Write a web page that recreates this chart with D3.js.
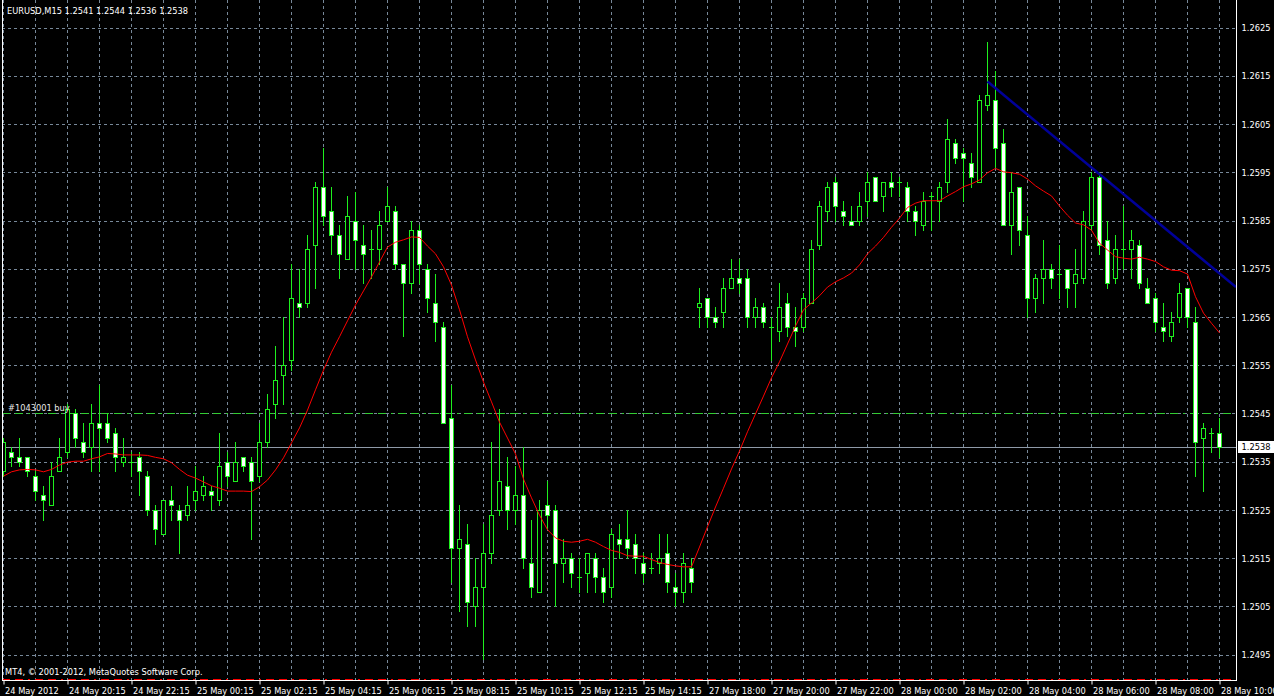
<!DOCTYPE html>
<html><head><meta charset="utf-8">
<script src="https://cdn.jsdelivr.net/npm/d3@7"></script>
<style>
html,body{margin:0;padding:0;background:#000;overflow:hidden;}
svg{display:block;}
text{font-family:"DejaVu Sans Condensed","DejaVu Sans",sans-serif;font-stretch:condensed;font-size:9.2px;fill:#fff;}
</style></head><body>
<svg id="chart" width="1274" height="696"></svg>
<script>
// ---------------- DATA ----------------
const symbolTitle = "EURUSD,M15  1.2541 1.2544 1.2536 1.2538";
const copyrightText = "MT4, \u00A9 2001-2012, MetaQuotes Software Corp.";
const orderLabel = "#1043001 buy";
const orderPrice = 1.2545;
const stopPrice = 1.2490;
const bidPrice = 1.2538;

const opens = [
1.2533,1.2537,1.2536,1.2536,1.2532,1.2528,1.2526,1.2533,1.2537,1.2545,
1.2539,1.2538,1.2543,1.2543,1.2541,1.2535,1.2535,1.2536,1.2532,1.2525,
1.2520,1.2527,1.2525,1.2524,1.2527,1.2528,1.2529,1.2527,1.2535,1.2531,
1.2536,1.2535,1.2532,1.2539,1.2547,1.2553,1.2556,1.2568,1.2568,1.2580,
1.2592,1.2587,1.2582,1.2577,1.2585,1.2580,1.2579,1.2579,1.2585,1.2587,
1.2576,1.2572,1.2583,1.2575,1.2568,1.2563,1.2544,1.2517,1.2518,1.2505,
1.2509,1.2516,1.2525,1.2530,1.2525,1.2528,1.2514,1.2508,1.2526,1.2525,
1.2514,1.2515,1.2511,1.2512,1.2515,1.2511,1.2509,1.2519,1.2519,1.2518,
1.2514,1.2513,1.2514,1.2516,1.2509,1.2508,1.2513,1.2567,1.2569,1.2565,
1.2566,1.2571,1.2573,1.2573,1.2565,1.2567,1.2563,1.2562,1.2568,1.2563,
1.2563,1.2568,1.2580,1.2587,1.2593,1.2587,1.2585,1.2585,1.2589,1.2594,
1.2590,1.2593,1.2593,1.2592,1.2587,1.2584,1.2590,1.2589,1.2593,1.2601,
1.2599,1.2597,1.2593,1.2609,1.2610,1.2601,1.2584,1.2592,1.2582,1.2569,
1.2573,1.2575,1.2574,1.2575,1.2572,1.2573,1.2584,1.2594,1.2581,1.2573,
1.2579,1.2579,1.2580,1.2571,1.2569,1.2563,1.2561,1.2565,1.2571,1.2564,
1.2540,1.2541,1.2541];
const highs = [
1.2540,1.2538,1.2540,1.2536,1.2533,1.2530,1.2535,1.2540,1.2547,1.2546,
1.2543,1.2547,1.2551,1.2545,1.2542,1.2540,1.2537,1.2537,1.2533,1.2526,
1.2527,1.2530,1.2526,1.2530,1.2534,1.2532,1.2530,1.2541,1.2537,1.2539,
1.2536,1.2536,1.2543,1.2549,1.2559,1.2565,1.2576,1.2575,1.2582,1.2593,
1.2600,1.2592,1.2584,1.2590,1.2591,1.2584,1.2583,1.2587,1.2592,1.2588,
1.2576,1.2585,1.2584,1.2576,1.2574,1.2564,1.2551,1.2526,1.2522,1.2515,
1.2522,1.2539,1.2546,1.2536,1.2534,1.2538,1.2523,1.2527,1.2531,1.2526,
1.2519,1.2516,1.2515,1.2516,1.2516,1.2513,1.2521,1.2522,1.2525,1.2520,
1.2516,1.2516,1.2520,1.2520,1.2512,1.2516,1.2515,1.2571,1.2569,1.2567,
1.2573,1.2577,1.2577,1.2575,1.2569,1.2568,1.2565,1.2572,1.2570,1.2567,
1.2570,1.2581,1.2589,1.2593,1.2594,1.2589,1.2588,1.2591,1.2595,1.2594,
1.2593,1.2595,1.2594,1.2593,1.2588,1.2591,1.2591,1.2593,1.2606,1.2602,
1.2600,1.2599,1.2611,1.2622,1.2616,1.2604,1.2595,1.2592,1.2586,1.2574,
1.2581,1.2576,1.2580,1.2575,1.2579,1.2587,1.2595,1.2595,1.2585,1.2582,
1.2588,1.2583,1.2581,1.2573,1.2570,1.2568,1.2566,1.2572,1.2571,1.2567,
1.2543,1.2542,1.2544];
const lows = [
1.2532,1.2534,1.2534,1.2532,1.2527,1.2523,1.2526,1.2533,1.2536,1.2538,
1.2536,1.2533,1.2533,1.2539,1.2533,1.2534,1.2532,1.2528,1.2524,1.2518,
1.2520,1.2523,1.2516,1.2523,1.2525,1.2527,1.2525,1.2526,1.2530,1.2531,
1.2533,1.2519,1.2531,1.2538,1.2544,1.2547,1.2554,1.2565,1.2567,1.2571,
1.2584,1.2578,1.2573,1.2577,1.2575,1.2572,1.2573,1.2576,1.2585,1.2575,
1.2561,1.2570,1.2572,1.2566,1.2560,1.2543,1.2510,1.2504,1.2501,1.2501,
1.2494,1.2514,1.2524,1.2521,1.2522,1.2513,1.2507,1.2508,1.2521,1.2505,
1.2510,1.2509,1.2508,1.2508,1.2508,1.2506,1.2507,1.2515,1.2515,1.2512,
1.2510,1.2512,1.2512,1.2508,1.2505,1.2506,1.2508,1.2563,1.2563,1.2563,
1.2563,1.2571,1.2570,1.2563,1.2563,1.2563,1.2556,1.2560,1.2561,1.2559,
1.2562,1.2568,1.2579,1.2585,1.2585,1.2584,1.2584,1.2584,1.2586,1.2589,
1.2587,1.2590,1.2590,1.2585,1.2582,1.2583,1.2583,1.2585,1.2591,1.2597,
1.2589,1.2592,1.2593,1.2608,1.2596,1.2584,1.2578,1.2580,1.2565,1.2566,
1.2568,1.2571,1.2569,1.2567,1.2567,1.2572,1.2583,1.2578,1.2571,1.2572,
1.2575,1.2573,1.2571,1.2568,1.2562,1.2560,1.2560,1.2564,1.2563,1.2532,
1.2529,1.2537,1.2536];
const closes = [
1.2539,1.2536,1.2535,1.2533,1.2529,1.2527,1.2532,1.2536,1.2546,1.2540,
1.2537,1.2543,1.2542,1.2540,1.2536,1.2536,1.2535,1.2533,1.2525,1.2521,
1.2527,1.2526,1.2523,1.2526,1.2529,1.2530,1.2528,1.2534,1.2532,1.2535,
1.2534,1.2531,1.2539,1.2546,1.2552,1.2555,1.2569,1.2567,1.2579,1.2592,
1.2586,1.2582,1.2578,1.2586,1.2581,1.2578,1.2579,1.2584,1.2588,1.2576,
1.2572,1.2583,1.2576,1.2569,1.2564,1.2543,1.2517,1.2519,1.2506,1.2509,
1.2516,1.2524,1.2531,1.2525,1.2528,1.2515,1.2509,1.2525,1.2524,1.2514,
1.2515,1.2512,1.2511,1.2516,1.2511,1.2508,1.2520,1.2518,1.2517,1.2515,
1.2512,1.2513,1.2515,1.2510,1.2508,1.2514,1.2510,1.2568,1.2565,1.2564,
1.2571,1.2573,1.2572,1.2565,1.2567,1.2564,1.2563,1.2567,1.2563,1.2562,
1.2569,1.2579,1.2588,1.2592,1.2588,1.2586,1.2584,1.2588,1.2593,1.2589,
1.2593,1.2592,1.2593,1.2587,1.2585,1.2589,1.2590,1.2592,1.2602,1.2598,
1.2598,1.2594,1.2610,1.2611,1.2600,1.2584,1.2591,1.2583,1.2569,1.2573,
1.2575,1.2573,1.2574,1.2571,1.2574,1.2585,1.2594,1.2580,1.2572,1.2579,
1.2579,1.2581,1.2572,1.2568,1.2564,1.2562,1.2564,1.2570,1.2565,1.2539,
1.2542,1.2541,1.2538];
const maValues = [
1.25320,1.25329,1.25333,1.25334,1.25333,1.25329,1.25334,1.25343,1.25349,1.25351,
1.25351,1.25356,1.25360,1.25367,1.25366,1.25364,1.25364,1.25364,1.25363,1.25359,
1.25356,1.25348,1.25334,1.25322,1.25316,1.25308,1.25300,1.25295,1.25289,1.25289,
1.25289,1.25288,1.25298,1.25312,1.25333,1.25358,1.25389,1.25420,1.25457,1.25499,
1.25540,1.25577,1.25609,1.25642,1.25675,1.25704,1.25733,1.25764,1.25795,1.25805,
1.25810,1.25816,1.25815,1.25797,1.25781,1.25754,1.25716,1.25665,1.25609,1.25561,
1.25515,1.25474,1.25432,1.25399,1.25366,1.25314,1.25275,1.25239,1.25209,1.25192,
1.25185,1.25183,1.25185,1.25189,1.25183,1.25174,1.25166,1.25162,1.25155,1.25154,
1.25154,1.25147,1.25141,1.25137,1.25134,1.25132,1.25132,1.25173,1.25215,1.25256,
1.25295,1.25335,1.25372,1.25412,1.25449,1.25486,1.25524,1.25557,1.25594,1.25631,
1.25665,1.25679,1.25694,1.25712,1.25723,1.25731,1.25741,1.25758,1.25781,1.25797,
1.25815,1.25836,1.25855,1.25877,1.25886,1.25891,1.25891,1.25891,1.25901,1.25910,
1.25920,1.25926,1.25934,1.25949,1.25958,1.25951,1.25949,1.25946,1.25936,1.25922,
1.25911,1.25901,1.25880,1.25861,1.25845,1.25841,1.25830,1.25803,1.25789,1.25775,
1.25772,1.25770,1.25774,1.25770,1.25765,1.25754,1.25747,1.25746,1.25739,1.25692,
1.25658,1.25637,1.25617];
const timeLabels = ["24 May 2012","24 May 20:15","24 May 22:15","25 May 00:15","25 May 02:15",
"25 May 04:15","25 May 06:15","25 May 08:15","25 May 10:15","25 May 12:15","25 May 14:15",
"27 May 18:00","27 May 20:00","27 May 22:00","28 May 00:00","28 May 02:00","28 May 04:00",
"28 May 06:00","28 May 08:00","28 May 10:00"];
const timeLabelBars = [0,8,16,24,32,40,48,56,64,72,80,88,96,104,112,120,128,136,144,152];
const priceTicks = [1.2495,1.2505,1.2515,1.2525,1.2535,1.2545,1.2555,1.2565,1.2575,1.2585,1.2595,1.2605,1.2615,1.2625];
const trendBars = [123, 137];
const trendPrices = [1.26138, 1.25946];

// ---------------- LAYOUT ----------------
const W = 1274, H = 696;
const plotLeft = 2, plotRight = 1236, plotBottom = 680;
const GREEN = "#1ef01e", GRID = "#778899";

const svg = d3.select("#chart");
svg.append("rect").attr("width", W).attr("height", H).attr("fill", "#000");

const x = d3.scaleLinear().domain([0, closes.length - 1]).range([3.5, 3.5 + 8 * (closes.length - 1)]);
const y = d3.scaleLinear().domain([1.2495, 1.2625]).range([654.6, 27.6]);
const py = v => Math.round(y(v)) + 0.5;

svg.append("defs").append("clipPath").attr("id", "plotclip")
  .append("rect").attr("x", plotLeft + 1).attr("y", 0).attr("width", plotRight - plotLeft - 1).attr("height", plotBottom);

// grid
const gridBars = d3.range(0, closes.length, 4);
const grid = svg.append("g");
grid.selectAll("line.v").data(gridBars).join("line").attr("class", "v")
  .attr("x1", d => x(d)).attr("x2", d => x(d)).attr("y1", 0).attr("y2", plotBottom)
  .attr("stroke", GRID).attr("stroke-dasharray", "3,3");
grid.selectAll("line.h").data(priceTicks).join("line").attr("class", "h")
  .attr("x1", plotLeft).attr("x2", plotRight).attr("y1", d => py(d)).attr("y2", d => py(d))
  .attr("stroke", GRID).attr("stroke-dasharray", "3,3");

const plot = svg.append("g").attr("clip-path", "url(#plotclip)");

// bid line
plot.append("line").attr("x1", plotLeft).attr("x2", plotRight)
  .attr("y1", py(bidPrice)).attr("y2", py(bidPrice)).attr("stroke", "#8f9aa8").attr("stroke-width", 1);
// order line
plot.append("line").attr("x1", plotLeft).attr("x2", plotRight)
  .attr("y1", py(orderPrice)).attr("y2", py(orderPrice)).attr("stroke", "#32cd32")
  .attr("stroke-dasharray", "8,5,8,5,2,5");
// stop line
plot.append("line").attr("x1", plotLeft).attr("x2", plotRight)
  .attr("y1", py(stopPrice)).attr("y2", py(stopPrice)).attr("stroke", "#ff0000")
  .attr("stroke-dasharray", "8,5,8,5,2,5");

// candles
const bars = d3.range(closes.length).map(i => ({i, o: opens[i], h: highs[i], l: lows[i], c: closes[i]}));
const cg = plot.append("g").selectAll("g").data(bars).join("g");
cg.append("line").attr("x1", d => x(d.i)).attr("x2", d => x(d.i))
  .attr("y1", d => Math.round(y(d.h))).attr("y2", d => Math.round(y(d.l)) + 1)
  .attr("stroke", GREEN).attr("stroke-width", 1);
cg.filter(d => d.o !== d.c).append("rect")
  .attr("x", d => x(d.i) - 2).attr("width", 4)
  .attr("y", d => Math.round(y(Math.max(d.o, d.c))) + 0.5)
  .attr("height", d => Math.max(1, Math.round(y(Math.min(d.o, d.c))) - Math.round(y(Math.max(d.o, d.c)))))
  .attr("fill", d => d.c > d.o ? "#000" : "#fff")
  .attr("stroke", GREEN).attr("stroke-width", 1);
cg.filter(d => d.o === d.c).append("line")
  .attr("x1", d => x(d.i) - 2.5).attr("x2", d => x(d.i) + 2.5)
  .attr("y1", d => py(d.o)).attr("y2", d => py(d.o))
  .attr("stroke", GREEN).attr("stroke-width", 1);

// moving average
plot.append("path").datum(maValues)
  .attr("d", d3.line().x((d, i) => x(i)).y(d => y(d)))
  .attr("fill", "none").attr("stroke", "#ff0000").attr("stroke-width", 1);

// trend line (ray)
const tx1 = x(trendBars[0]), ty1 = y(trendPrices[0]);
const tx2 = x(trendBars[1]), ty2 = y(trendPrices[1]);
const tEnd = plotRight;
const tyEnd = ty1 + (ty2 - ty1) * (tEnd - tx1) / (tx2 - tx1);
plot.append("line").attr("x1", tx1).attr("y1", ty1).attr("x2", tEnd).attr("y2", tyEnd)
  .attr("stroke", "#000099").attr("stroke-width", 2.6);

// borders
svg.append("line").attr("x1", plotLeft + 0.5).attr("x2", plotLeft + 0.5).attr("y1", 0).attr("y2", plotBottom + 1).attr("stroke", "#fff");
svg.append("line").attr("x1", plotRight + 0.5).attr("x2", plotRight + 0.5).attr("y1", 0).attr("y2", plotBottom + 1).attr("stroke", "#fff");

// price axis
const yAxis = d3.axisRight(y).tickValues(priceTicks).tickFormat(d3.format(".4f")).tickSize(0).tickPadding(5);
const yg = svg.append("g").attr("transform", `translate(${plotRight + 0.5},0)`).call(yAxis);
yg.select(".domain").remove();
yg.selectAll("text").attr("fill", "#fff").attr("font-family", null).attr("font-size", null)
  .attr("y", 0).attr("dy", "0.34em");
yg.attr("font-family", null).attr("font-size", null);

// bid price box
svg.append("rect").attr("x", plotRight + 2).attr("y", Math.round(y(bidPrice)) - 6)
  .attr("width", W - plotRight - 2).attr("height", 12).attr("fill", "#fff");
svg.append("text").attr("x", plotRight + 5.5).attr("y", y(bidPrice)).attr("dy", "0.34em")
  .style("fill", "#000").text(d3.format(".4f")(bidPrice));

// time axis
const xAxis = d3.axisBottom(x).tickValues(timeLabelBars)
  .tickFormat((d, i) => timeLabels[i]).tickSize(4).tickPadding(3);
const xg = svg.append("g").attr("transform", `translate(0,${plotBottom + 0.5})`).call(xAxis);
xg.attr("font-family", null).attr("font-size", null);
xg.select(".domain").attr("d", `M${plotLeft},0H${plotRight + 1}`).attr("stroke", "#fff");
xg.selectAll(".tick line").attr("stroke", "#fff");
xg.selectAll("text").attr("text-anchor", "start").attr("dx", 1).attr("fill", "#fff");

// texts
svg.append("text").attr("x", 7).attr("y", 14).text(symbolTitle);
svg.append("text").attr("x", 8).attr("y", py(orderPrice) - 3).style("fill", "#e8e8e8").text(orderLabel);
svg.append("text").attr("x", 5).attr("y", 675).text(copyrightText);
</script>
</body></html>
